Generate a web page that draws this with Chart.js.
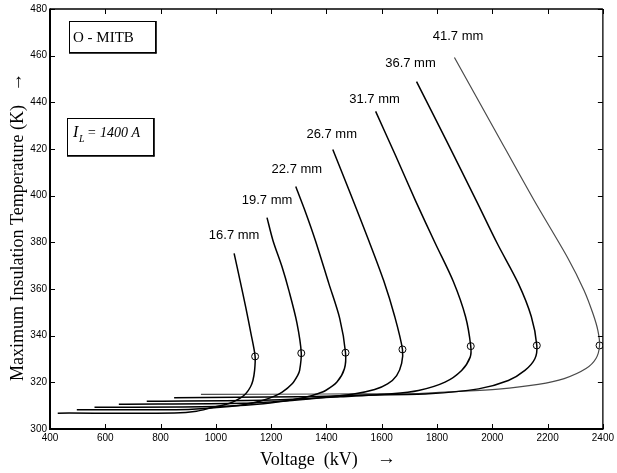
<!DOCTYPE html>
<html>
<head>
<meta charset="utf-8">
<script src="https://cdn.jsdelivr.net/npm/chart.js@4.4.1/dist/chart.umd.min.js"></script>
<style>
  html,body{margin:0;padding:0;background:#fff}
  canvas{display:block}
</style>
</head>
<body>
<canvas id="chart" width="617" height="473"></canvas>
<script>
// Temperatura máxima del aislamiento vs tensión, O-MITB, IL = 1400 A
const gapLabels = ['16.7 mm','19.7 mm','22.7 mm','26.7 mm','31.7 mm','36.7 mm','41.7 mm'];

const volt167 = [428, 850, 930, 986, 1048, 1085, 1108, 1125, 1134, 1140, 1142, 1127, 1108, 1087.5, 1066];
const temp167 = [306.8, 306.9, 307.6, 309.2, 310.9, 313.0, 315.1, 318.0, 320.8, 325.0, 331.1, 340.9, 352.2, 363.6, 375.3];

const volt197 = [497, 900, 1050, 1120, 1168, 1210, 1240, 1276, 1296, 1303, 1309, 1293, 1264, 1239, 1206.5, 1185];
const temp197 = [308.2, 308.4, 309.6, 310.8, 312.2, 314.0, 315.8, 319.4, 323.0, 325.1, 332.5, 345.6, 359.4, 369.6, 380.8, 390.6];

const volt227 = [561, 1000, 1150, 1250, 1324, 1365, 1397, 1438, 1465, 1469, 1448, 1408.5, 1360, 1326, 1289];
const temp227 = [309.3, 309.6, 310.6, 312.0, 313.6, 315.0, 316.5, 320.1, 325.8, 332.7, 347.4, 362.4, 380.8, 392.4, 403.9];

const volt267 = [649, 1100, 1250, 1372, 1499, 1574.6, 1621, 1654, 1672, 1675, 1647, 1607, 1553, 1488, 1423];
const temp267 = [310.6, 311.0, 312.0, 313.3, 315.0, 316.9, 319.3, 322.9, 328.1, 334.1, 348.2, 363.6, 380.8, 400.5, 419.8];

const volt317 = [750, 1200, 1450, 1637, 1733, 1829, 1889, 1920, 1922, 1903, 1859, 1794, 1722, 1650, 1578];
const temp317 = [311.9, 312.4, 313.8, 315.1, 316.5, 320.1, 325.1, 330.8, 335.5, 348.2, 363.2, 379.5, 397.9, 417.2, 436.1];

const volt367 = [849, 1300, 1550, 1769, 1950, 2058, 2118, 2154, 2161, 2141, 2094, 2018, 1942, 1834, 1726];
const temp367 = [313.4, 313.8, 314.6, 315.1, 317.2, 320.8, 325.1, 330.1, 335.8, 348.2, 362.4, 379.5, 397.9, 423.6, 448.9];

const volt417 = [946, 1400, 1733, 1841, 2022, 2166, 2260, 2339, 2375, 2388, 2382, 2364, 2332, 2274, 2151.5, 2007, 1863];
const temp417 = [314.8, 315.0, 315.2, 315.9, 317.1, 319.1, 321.6, 325.9, 330.2, 335.8, 342.2, 349.5, 359.4, 373.1, 397.9, 428.6, 459.2];

// puntos marcados con círculo (tensión máxima de cada curva)
const noseVolt = [1142, 1309, 1469, 1675, 1922, 2161, 2388];
const noseTemp = [331.1, 332.5, 332.7, 334.1, 335.5, 335.8, 335.8];

// anclas de las etiquetas de cada curva
const labelVolt = [1066, 1185, 1293, 1419, 1574, 1704, 1876];
const labelTemp = [382.9, 397.9, 411.2, 426.2, 441.2, 456.6, 468.2];

const xMin = 400, xMax = 2400, xStep = 200;
const yMin = 300, yMax = 480, yStep = 20;

const curves = [
  [volt167,temp167],[volt197,temp197],[volt227,temp227],[volt267,temp267],
  [volt317,temp317],[volt367,temp367],[volt417,temp417]
];
const zip = (xs,ys) => xs.map((v,i)=>({x:v, y:ys[i]}));

const datasets = curves.map(([v,t],i)=>({
  label: gapLabels[i],
  data: zip(v,t),
  showLine: true,
  borderColor: i===6 ? '#4a4a4a' : '#000',
  borderWidth: i===6 ? 1.2 : 1.5,
  pointRadius: 0,
  tension: 0.3,
  fill: false
}));
datasets.push({
  label: 'max',
  data: zip(noseVolt,noseTemp),
  showLine: false,
  pointRadius: 3.5,
  pointStyle: 'circle',
  backgroundColor: 'rgba(0,0,0,0)',
  borderColor: '#000',
  borderWidth: 1
});

const serif = '"Liberation Serif", "Times New Roman", serif';
const sans = '"Liberation Sans", Arial, sans-serif';

const framePlugin = {
  id: 'frame',
  afterDraw(chart){
    const {ctx, chartArea:a, scales:{x, y}} = chart;
    const line = (x1,y1,x2,y2)=>{ ctx.beginPath(); ctx.moveTo(x1,y1); ctx.lineTo(x2,y2); ctx.stroke(); };
    ctx.save();
    ctx.strokeStyle = '#000';
    ctx.fillStyle = '#000';

    // marcas hacia dentro en los cuatro lados
    ctx.lineWidth = 1;
    x.ticks.forEach(t=>{
      const px = Math.round(x.getPixelForValue(t.value))+0.5;
      line(px, a.bottom, px, a.bottom-5);
      line(px, a.top, px, a.top+5);
    });
    y.ticks.forEach(t=>{
      const py = Math.round(y.getPixelForValue(t.value))+0.5;
      line(a.left, py, a.left+5, py);
      line(a.right, py, a.right-5, py);
    });

    // caja de ejes
    ctx.lineWidth = 1.3;
    line(a.left, a.top, a.right, a.top);
    line(a.right, a.top, a.right, a.bottom);
    ctx.lineWidth = 2;
    line(a.left, a.top-0.6, a.left, a.bottom+1);
    line(a.left-1, a.bottom, a.right+0.6, a.bottom);

    // etiquetas de las curvas
    ctx.font = '13px ' + sans;
    ctx.textAlign = 'center';
    ctx.textBaseline = 'middle';
    gapLabels.forEach((s,i)=>{
      ctx.fillText(s, x.getPixelForValue(labelVolt[i]), y.getPixelForValue(labelTemp[i]));
    });

    // recuadros de texto
    ctx.lineWidth = 1;
    ctx.strokeRect(69.5, 21.5, 86, 31);
    ctx.lineWidth = 1.6;
    line(156, 21, 156, 53.5); line(69, 53, 156.5, 53);
    ctx.textAlign = 'left';
    ctx.textBaseline = 'alphabetic';
    ctx.font = '15px ' + serif;
    ctx.fillText('O - MITB', 73, 42);

    ctx.lineWidth = 1;
    ctx.strokeRect(67.5, 118.5, 86, 37);
    ctx.lineWidth = 1.6;
    line(154, 118, 154, 156.5); line(67, 156, 154.5, 156);
    ctx.font = 'italic 16px ' + serif;
    ctx.fillText('I', 73, 137);
    ctx.font = 'italic 10px ' + serif;
    ctx.fillText('L', 79, 142);
    ctx.font = 'italic 14px ' + serif;
    ctx.fillText('= 1400 A', 87, 137);

    // títulos de ejes
    ctx.font = '18px ' + serif;
    ctx.fillText('Voltage  (kV)', 260, 465);
    ctx.font = '19px ' + serif;
    ctx.textBaseline = 'middle';
    ctx.fillText('\u2192', 377, 459);

    ctx.save();
    ctx.translate(18, 243);
    ctx.rotate(-Math.PI/2);
    ctx.textAlign = 'center';
    ctx.font = '18px ' + serif;
    ctx.fillText('Maximum Insulation Temperature (K)', 0, 0);
    ctx.restore();
    ctx.save();
    ctx.translate(17, 82);
    ctx.rotate(-Math.PI/2);
    ctx.textAlign = 'center';
    ctx.font = '19px ' + serif;
    ctx.fillText('\u2192', 0, 0);
    ctx.restore();

    ctx.restore();
  }
};

new Chart(document.getElementById('chart').getContext('2d'), {
  type: 'scatter',
  data: { datasets },
  options: {
    responsive: false,
    animation: false,
    layout: { padding: { top: 8, right: 12, left: 0, bottom: 0 } },
    plugins: { legend: { display: false }, tooltip: { enabled: false } },
    scales: {
      x: {
        type: 'linear', min: xMin, max: xMax,
        afterFit: s => { s.height = 44; },
        grid: { display: false, drawTicks: false },
        border: { display: false },
        ticks: { stepSize: xStep, padding: 3, color: '#000', font: { family: sans, size: 10 }, callback: v => String(v) }
      },
      y: {
        type: 'linear', min: yMin, max: yMax,
        afterFit: s => { s.width = 50; },
        grid: { display: false, drawTicks: false },
        border: { display: false },
        ticks: { stepSize: yStep, padding: 3, color: '#000', font: { family: sans, size: 10 }, callback: v => String(v) }
      }
    }
  },
  plugins: [framePlugin]
});
</script>
</body>
</html>
